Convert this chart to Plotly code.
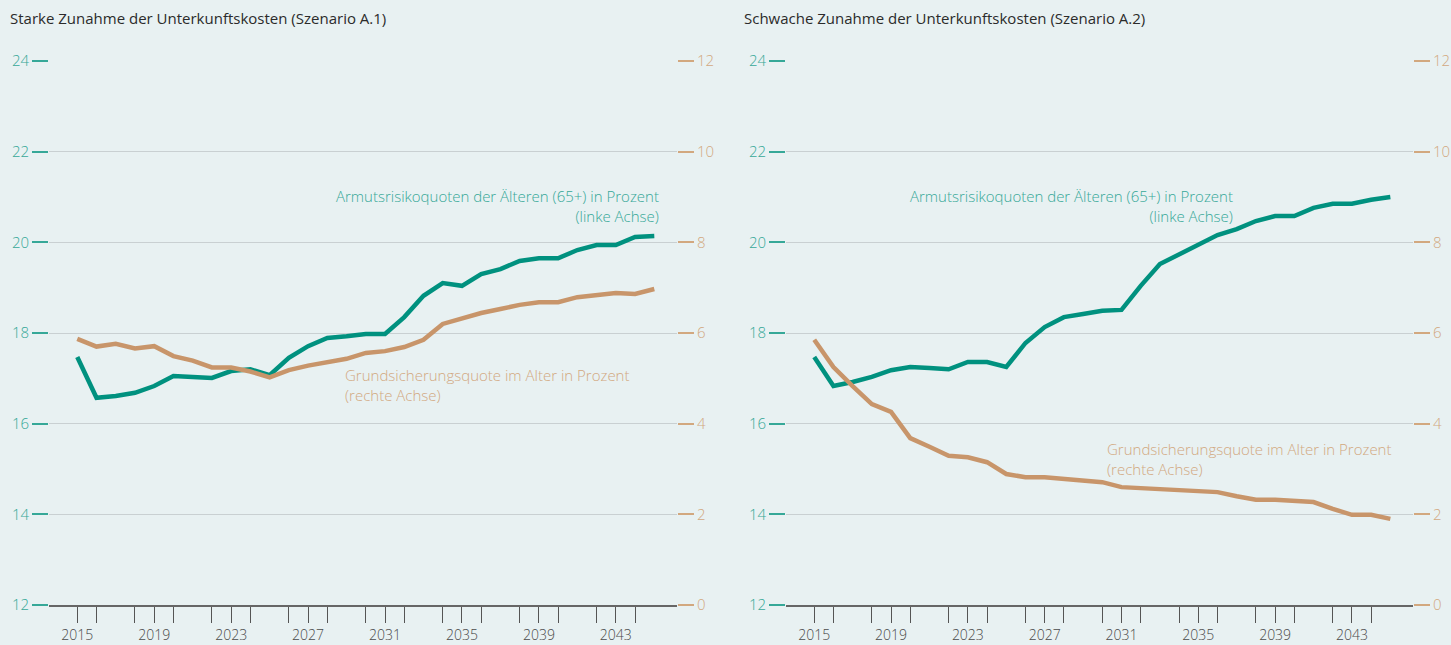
import plotly.graph_objects as go

years = list(range(2015, 2046))

# Szenario A.1 (starke Zunahme)
a1_armut = [17.47, 16.57, 16.61, 16.68, 16.83, 17.05, 17.03, 17.01, 17.16, 17.20,
            17.07, 17.45, 17.71, 17.89, 17.93, 17.98, 17.98, 18.35, 18.82, 19.10,
            19.04, 19.30, 19.41, 19.59, 19.65, 19.65, 19.83, 19.94, 19.94, 20.12, 20.14]
a1_grund = [5.87, 5.70, 5.76, 5.66, 5.71, 5.49, 5.39, 5.24, 5.24, 5.15,
            5.02, 5.18, 5.28, 5.36, 5.43, 5.56, 5.60, 5.69, 5.85, 6.20,
            6.33, 6.44, 6.53, 6.62, 6.68, 6.68, 6.79, 6.84, 6.88, 6.86, 6.97]

# Szenario A.2 (schwache Zunahme)
a2_armut = [17.47, 16.83, 16.92, 17.03, 17.18, 17.25, 17.23, 17.20, 17.36, 17.36,
            17.25, 17.78, 18.13, 18.35, 18.42, 18.49, 18.51, 19.04, 19.52, 19.74,
            19.94, 20.16, 20.29, 20.47, 20.58, 20.58, 20.76, 20.85, 20.85, 20.94, 21.00]
a2_grund = [5.85, 5.25, 4.83, 4.43, 4.26, 3.68, 3.49, 3.29, 3.26, 3.15,
            2.89, 2.82, 2.82, 2.78, 2.76, 2.71, 2.60, 2.58, 2.56, 2.54,
            2.51, 2.49, 2.40, 2.32, 2.32, 2.29, 2.27, 2.12, 1.99, 1.99, 1.90]

titles = ["Starke Zunahme der Unterkunftskosten (Szenario A.1)",
          "Schwache Zunahme der Unterkunftskosten (Szenario A.2)"]
label_armut = "Armutsrisikoquoten der Älteren (65+) in Prozent<br>(linke Achse)"
label_grund = "Grundsicherungsquote im Alter in Prozent<br>(rechte Achse)"

left_ticks = [12, 14, 16, 18, 20, 22, 24]
right_ticks = [0, 2, 4, 6, 8, 10, 12]
x_label_ticks = [2015, 2019, 2023, 2027, 2031, 2035, 2039, 2043]

GREEN = "#00917f"
ORANGE = "#c8956a"
GREEN_TXT = "#36a898"
ORANGE_TXT = "#d2a87f"
BG = "#e8f1f2"
FONT = "Open Sans"

fig = go.Figure()
fig.add_trace(go.Scatter(x=years, y=a1_grund, xaxis="x", yaxis="y2", mode="lines",
                         line=dict(color=ORANGE, width=4.5), showlegend=False))
fig.add_trace(go.Scatter(x=years, y=a1_armut, xaxis="x", yaxis="y", mode="lines",
                         line=dict(color=GREEN, width=4.5), showlegend=False))
fig.add_trace(go.Scatter(x=years, y=a2_grund, xaxis="x2", yaxis="y4", mode="lines",
                         line=dict(color=ORANGE, width=4.5), showlegend=False))
fig.add_trace(go.Scatter(x=years, y=a2_armut, xaxis="x2", yaxis="y3", mode="lines",
                         line=dict(color=GREEN, width=4.5), showlegend=False))

xr = [2013.53, 2046.18]
d1 = [0, 628 / 1364]
d2 = [737 / 1364, 1]

def xax(domain, anchor):
    return dict(domain=domain, anchor=anchor, range=xr, tickmode="array",
                tickvals=x_label_ticks, ticks="outside", ticklen=16, tickwidth=1,
                tickcolor="#555555", showline=True, linecolor="#666666", linewidth=1.5,
                showgrid=False, zeroline=False, automargin=False,
                tickfont=dict(family=FONT, size=14, color="#4a4a4a", weight=300),
                minor=dict(tickmode="array", tickvals=years[1::2], ticks="outside",
                           ticklen=16, tickwidth=1, tickcolor="#555555", showgrid=False))

def ylax(anchor):
    return dict(anchor=anchor, range=[12, 24], tickmode="array", tickvals=left_ticks,
                ticks="outside", ticklen=16, tickwidth=1.5, tickcolor=GREEN_TXT,
                showgrid=True, gridcolor="#c9d0d2", gridwidth=1.2, zeroline=False,
                showline=False, automargin=False,
                tickfont=dict(family=FONT, size=15, color=GREEN_TXT, weight=300))

def yrax(anchor, overlay):
    return dict(anchor=anchor, overlaying=overlay, side="right", range=[0, 12],
                tickmode="array", tickvals=right_ticks, ticks="outside", ticklen=16,
                tickwidth=1.5, tickcolor=ORANGE_TXT, showgrid=False, zeroline=False,
                showline=False, automargin=False,
                tickfont=dict(family=FONT, size=15, color=ORANGE_TXT, weight=300))

annotations = [
    dict(text=titles[0], xref="paper", yref="paper", x=(8 - 49) / 1364, y=1 + 43 / 544,
         xanchor="left", yanchor="middle", showarrow=False,
         font=dict(family=FONT, size=15, color="#2b2b2b")),
    dict(text=titles[1], xref="paper", yref="paper", x=(742 - 49) / 1364, y=1 + 43 / 544,
         xanchor="left", yanchor="middle", showarrow=False,
         font=dict(family=FONT, size=15, color="#2b2b2b")),
    dict(text=label_armut, xref="x", yref="y", x=2045.35, y=20.8, xanchor="right",
         yanchor="middle", align="right", showarrow=False,
         font=dict(family=FONT, size=15, color=GREEN_TXT, weight=300)),
    dict(text=label_grund, xref="x", yref="y", x=2028.8, y=16.85, xanchor="left",
         yanchor="middle", align="left", showarrow=False,
         font=dict(family=FONT, size=15, color=ORANGE_TXT, weight=300)),
    dict(text=label_armut, xref="x2", yref="y3", x=2036.9, y=20.8, xanchor="right",
         yanchor="middle", align="right", showarrow=False,
         font=dict(family=FONT, size=15, color=GREEN_TXT, weight=300)),
    dict(text=label_grund, xref="x2", yref="y3", x=2030.15, y=15.22, xanchor="left",
         yanchor="middle", align="left", showarrow=False,
         font=dict(family=FONT, size=15, color=ORANGE_TXT, weight=300)),
]

fig.update_layout(
    width=1451, height=645,
    margin=dict(l=49, r=38, t=61, b=40, autoexpand=False),
    paper_bgcolor=BG, plot_bgcolor=BG,
    xaxis=xax(d1, "y"), yaxis=ylax("x"), yaxis2=yrax("x", "y"),
    xaxis2=xax(d2, "y3"), yaxis3=ylax("x2"), yaxis4=yrax("x2", "y3"),
    annotations=annotations,
    font=dict(family=FONT),
)

fig.write_html("out.html", config={"displayModeBar": False})

# remove the default page margin so the figure fills the window exactly
with open("out.html", encoding="utf-8") as f:
    html = f.read()
html = html.replace("<head>", "<head><style>html,body{margin:0;padding:0;overflow:hidden;background:%s;}</style>" % BG, 1)
with open("out.html", "w", encoding="utf-8") as f:
    f.write(html)
